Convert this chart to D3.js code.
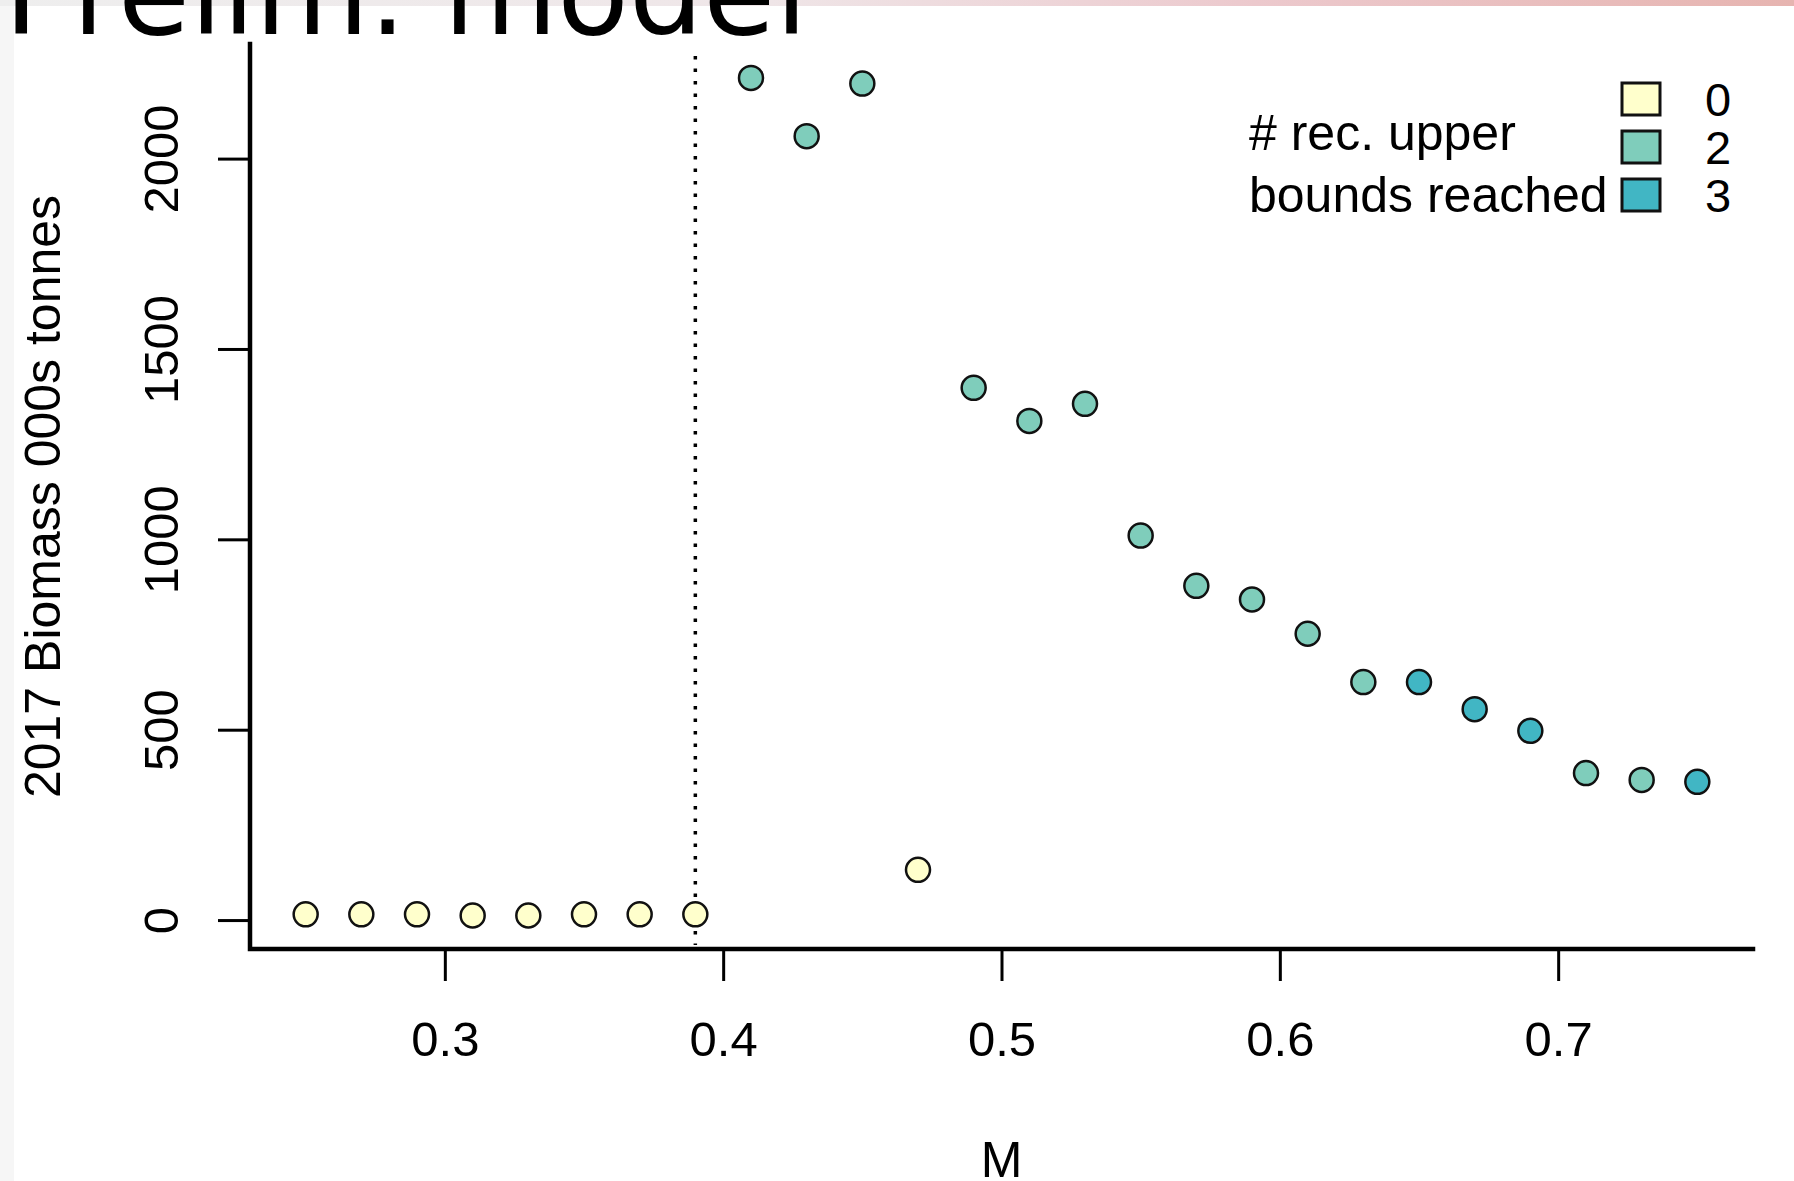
<!DOCTYPE html>
<html>
<head>
<meta charset="utf-8">
<script src="https://cdn.jsdelivr.net/npm/d3@7"></script>
<style>
  body { margin: 0; background: #ffffff; }
  svg { display: block; }
</style>
</head>
<body>
<script>
// Data
var mValues = [0.25, 0.27, 0.29, 0.31, 0.33, 0.35, 0.37, 0.39, 0.41, 0.43, 0.45, 0.47, 0.49,
               0.51, 0.53, 0.55, 0.57, 0.59, 0.61, 0.63, 0.65, 0.67, 0.69, 0.71, 0.73, 0.75];
var biomass = [15, 15, 15, 12, 12, 15, 15, 15, 2212, 2059, 2197, 132, 1398,
               1311, 1356, 1010, 878, 842, 752, 625, 625, 554, 497, 386, 368, 363];
var boundsReached = [0, 0, 0, 0, 0, 0, 0, 0, 2, 2, 2, 0, 2,
                     2, 2, 2, 2, 2, 2, 2, 3, 3, 3, 2, 2, 3];
var legendKeys = [0, 2, 3];
var legendColors = ["#ffffcc", "#7fcdbb", "#41b6c4"];
var xTicks = [0.3, 0.4, 0.5, 0.6, 0.7];
var yTicks = [0, 500, 1000, 1500, 2000];
var cutoffM = 0.39;

// SVG area
var svgWidth = 1794;
var svgHeight = 1181;

var svg = d3.select("body")
            .append("svg")
            .attr("width", svgWidth)
            .attr("height", svgHeight);

// slide background bits: header band and grey left edge
var grad = svg.append("defs").append("linearGradient")
              .attr("id", "band")
              .attr("x1", "0").attr("x2", "1");
grad.append("stop").attr("offset", "0").attr("stop-color", "#eeeeee");
grad.append("stop").attr("offset", "0.42").attr("stop-color", "#efe6e8");
grad.append("stop").attr("offset", "0.7").attr("stop-color", "#ecc9cd");
grad.append("stop").attr("offset", "1").attr("stop-color", "#e6b4b0");

svg.append("rect").attr("x", 0).attr("y", 0).attr("width", svgWidth).attr("height", 6)
   .style("fill", "url(#band)");
svg.append("rect").attr("x", 0).attr("y", 6).attr("width", 14).attr("height", svgHeight - 6)
   .style("fill", "#f6f6f6");

// plot region (R style, 4% padding around the data)
var plot = { left: 250, right: 1753, top: 44, bottom: 949 };

var x = d3.scaleLinear()
          .domain([0.23, 0.77])
          .range([plot.left, plot.right]);

var y = d3.scaleLinear()
          .domain([-76, 2301])
          .range([plot.bottom, plot.top]);

var font = "'Liberation Sans', Arial, sans-serif";

// x axis
var xAxis = svg.append("g")
               .attr("transform", "translate(0," + plot.bottom + ")")
               .call(d3.axisBottom(x).tickValues(xTicks).tickSize(32).tickPadding(40)
                       .tickFormat(d3.format(".1f")));
xAxis.select(".domain").remove();
xAxis.selectAll("line").style("stroke", "#000").style("stroke-width", 3);
xAxis.selectAll("text")
     .style("font-family", font)
     .style("font-size", "49px")
     .style("fill", "#000")
     .attr("dy", "0.71em");

// y axis (labels rotated like R's default las=0)
var yAxis = svg.append("g")
               .attr("transform", "translate(" + plot.left + ",0)")
               .call(d3.axisLeft(y).tickValues(yTicks).tickSize(32).tickFormat(d3.format("d")));
yAxis.select(".domain").remove();
yAxis.selectAll("line").style("stroke", "#000").style("stroke-width", 3);
yAxis.selectAll("text")
     .attr("x", null).attr("dy", null).attr("y", 0)
     .attr("transform", "translate(" + (178 - plot.left) + ",0) rotate(-90)")
     .style("text-anchor", "middle")
     .style("font-family", font)
     .style("font-size", "49px")
     .style("fill", "#000");

// L-shaped box
svg.append("path")
   .attr("d", "M" + plot.left + "," + plot.top + "V" + plot.bottom + "H" + plot.right)
   .style("fill", "none")
   .style("stroke", "#000")
   .style("stroke-width", 4.5)
   .style("stroke-linecap", "square");

// dotted reference line
svg.append("line")
   .attr("x1", x(cutoffM)).attr("x2", x(cutoffM))
   .attr("y1", plot.top + 12).attr("y2", plot.bottom - 4)
   .style("stroke", "#000")
   .style("stroke-width", 3.5)
   .style("stroke-dasharray", "3.5 9");

// points
var colour = d3.scaleOrdinal().domain(legendKeys).range(legendColors);

svg.append("g").selectAll("circle")
   .data(mValues)
   .enter()
   .append("circle")
   .attr("cx", function(d) { return x(d); })
   .attr("cy", function(d, i) { return y(biomass[i]); })
   .attr("r", 12)
   .style("fill", function(d, i) { return colour(boundsReached[i]); })
   .style("stroke", "#111")
   .style("stroke-width", 2.5);

// axis titles
svg.append("text")
   .attr("x", (plot.left + plot.right) / 2)
   .attr("y", 1177)
   .style("text-anchor", "middle")
   .style("font-family", font)
   .style("font-size", "50px")
   .text("M");

svg.append("text")
   .attr("transform", "translate(60," + ((plot.top + plot.bottom) / 2) + ") rotate(-90)")
   .style("text-anchor", "middle")
   .style("font-family", font)
   .style("font-size", "50px")
   .text("2017 Biomass 000s tonnes");

// legend
var legend = svg.append("g");
legend.selectAll("rect")
      .data(legendKeys)
      .enter()
      .append("rect")
      .attr("x", 1622)
      .attr("y", function(d, i) { return 83 + i * 48; })
      .attr("width", 38)
      .attr("height", 32)
      .style("fill", function(d) { return colour(d); })
      .style("stroke", "#111")
      .style("stroke-width", 3);

legend.selectAll("text.key")
      .data(legendKeys)
      .enter()
      .append("text")
      .attr("class", "key")
      .attr("x", 1718)
      .attr("y", function(d, i) { return 116 + i * 48; })
      .style("text-anchor", "middle")
      .style("font-family", font)
      .style("font-size", "47px")
      .text(function(d) { return d; });

legend.append("text")
      .attr("x", 1249).attr("y", 150)
      .style("font-family", font)
      .style("font-size", "50px")
      .text("# rec. upper");

legend.append("text")
      .attr("x", 1249).attr("y", 212)
      .style("font-family", font)
      .style("font-size", "50px")
      .text("bounds reached");

// slide title, cut off at the top edge
svg.append("text")
   .attr("x", 4)
   .attr("y", 34)
   .style("font-family", "'DejaVu Sans', sans-serif")
   .style("font-size", "117px")
   .style("fill", "#000")
   .text("Prelim. model");
</script>
</body>
</html>
